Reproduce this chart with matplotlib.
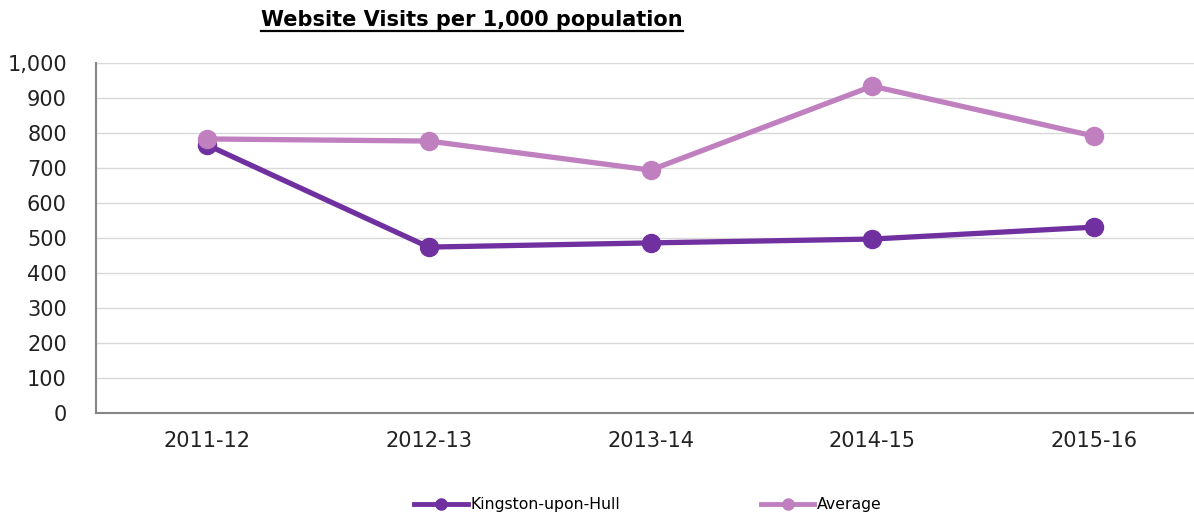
import matplotlib
matplotlib.use("Agg")
import matplotlib.pyplot as plt
from matplotlib.lines import Line2D

years = ["2011-12", "2012-13", "2013-14", "2014-15", "2015-16"]
hull = [766, 474, 486, 497, 531]
average = [783, 777, 694, 934, 791]

HULL_C = "#7030a0"
AVG_C = "#c080c0"

plt.rcParams["font.family"] = ["DejaVu Sans"]

fig = plt.figure(figsize=(11.94, 5.16), dpi=100)
ax = fig.add_axes([96 / 1194, 1 - 413 / 516, 1 - 96 / 1194, 350 / 516])

x = range(len(years))
ax.plot(x, hull, color=HULL_C, lw=3.8, marker="o", ms=13, label="Kingston-upon-Hull", zorder=3)
ax.plot(x, average, color=AVG_C, lw=3.8, marker="o", ms=13, label="Average", zorder=4)

ax.set_xlim(-0.5, 4.45)
ax.set_ylim(0, 1000)
ax.set_yticks(range(0, 1001, 100))
ax.set_yticklabels([f"{v:,}" for v in range(0, 1001, 100)])
ax.set_xticks(list(x))
ax.set_xticklabels(years)
ax.tick_params(axis="both", length=0, labelsize=15, colors="#222222")
ax.tick_params(axis="x", pad=13)
ax.tick_params(axis="y", pad=21)
ax.grid(axis="y", color="#d9d9d9", lw=1)
ax.set_axisbelow(True)
for s in ("top", "right"):
    ax.spines[s].set_visible(False)
for s in ("left", "bottom"):
    ax.spines[s].set_color("#868686")
    ax.spines[s].set_linewidth(1.5)

# title with underline
t = fig.text(472 / 1194, 1 - 20 / 516, "Website Visits per 1,000 population",
             ha="center", va="center", fontsize=15, fontweight="bold")
fig.canvas.draw()
bb = t.get_window_extent().transformed(fig.transFigure.inverted())
fig.add_artist(Line2D([bb.x0, bb.x1], [bb.y0 - 0.002, bb.y0 - 0.002], color="black",
                      lw=1.6, transform=fig.transFigure))

handles = [Line2D([], [], color=HULL_C, lw=3.5, marker="o", ms=8),
           Line2D([], [], color=AVG_C, lw=3.5, marker="o", ms=8)]
fig.legend(handles, ["Kingston-upon-Hull", "Average"], loc="center",
           bbox_to_anchor=(648 / 1194, 1 - 505 / 516), ncol=2, frameon=False,
           fontsize=11.3, handlelength=3.4, handletextpad=0.15, columnspacing=9.0)

fig.savefig("out.png", dpi=100)
